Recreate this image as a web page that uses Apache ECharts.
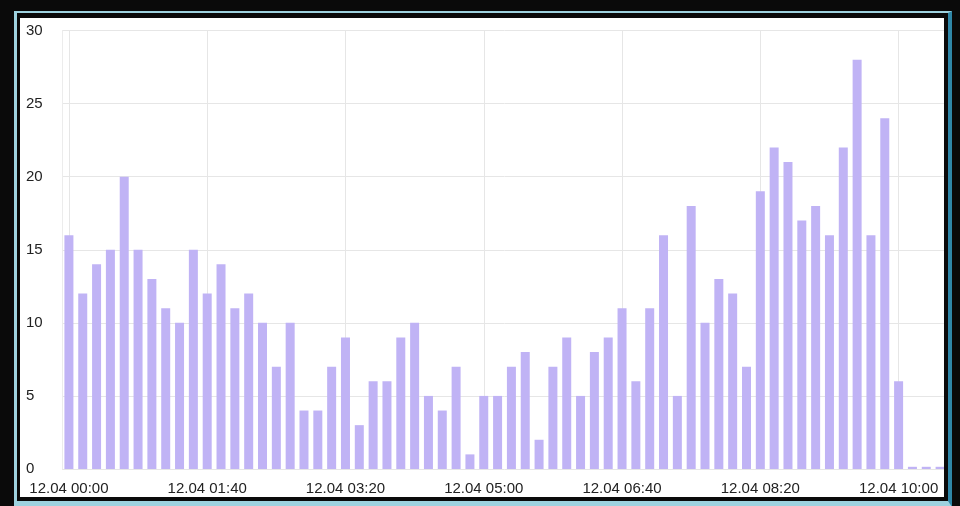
<!DOCTYPE html>
<html>
<head>
<meta charset="utf-8">
<script src="https://cdn.jsdelivr.net/npm/echarts@6/dist/echarts.min.js"></script>
<style>
  html, body { margin: 0; padding: 0; }
  body { width: 960px; height: 506px; overflow: hidden; background: #0a0a0a; position: relative; }
  #frame { position: absolute; left: 14px; top: 11px; width: 938px; height: 496px; box-sizing: border-box;
           border-left: 3px solid #9ed2df; border-top: 2px solid #9ed2df; border-bottom: 6px solid #9ed2df;
           border-right: 4px solid #2f87a8; }
  #panel { position: absolute; left: 20px; top: 18px; width: 924px; height: 479px; background: #fff; overflow: hidden; }
  #chart { position: absolute; left: 0; top: 0; width: 940px; height: 479px; }
</style>
</head>
<body>
<div id="frame"></div>
<div id="panel"><div id="chart"></div></div>
<script>
const categories = [
  '12.04 00:00','12.04 00:10','12.04 00:20','12.04 00:30','12.04 00:40','12.04 00:50',
  '12.04 01:00','12.04 01:10','12.04 01:20','12.04 01:30','12.04 01:40','12.04 01:50',
  '12.04 02:00','12.04 02:10','12.04 02:20','12.04 02:30','12.04 02:40','12.04 02:50',
  '12.04 03:00','12.04 03:10','12.04 03:20','12.04 03:30','12.04 03:40','12.04 03:50',
  '12.04 04:00','12.04 04:10','12.04 04:20','12.04 04:30','12.04 04:40','12.04 04:50',
  '12.04 05:00','12.04 05:10','12.04 05:20','12.04 05:30','12.04 05:40','12.04 05:50',
  '12.04 06:00','12.04 06:10','12.04 06:20','12.04 06:30','12.04 06:40','12.04 06:50',
  '12.04 07:00','12.04 07:10','12.04 07:20','12.04 07:30','12.04 07:40','12.04 07:50',
  '12.04 08:00','12.04 08:10','12.04 08:20','12.04 08:30','12.04 08:40','12.04 08:50',
  '12.04 09:00','12.04 09:10','12.04 09:20','12.04 09:30','12.04 09:40','12.04 09:50',
  '12.04 10:00','12.04 10:10','12.04 10:20','12.04 10:30'
];
const values = [
  16, 12, 14, 15, 20, 15, 13, 11, 10, 15,
  12, 14, 11, 12, 10, 7, 10, 4, 4, 7,
  9, 3, 6, 6, 9, 10, 5, 4, 7, 1,
  5, 5, 7, 8, 2, 7, 9, 5, 8, 9,
  11, 6, 11, 16, 5, 18, 10, 13, 12, 7,
  19, 22, 21, 17, 18, 16, 22, 28, 16, 24,
  6, 0.15, 0.15, 0.15
];
const yTicks = [0, 5, 10, 15, 20, 25, 30];

const chart = echarts.init(document.getElementById('chart'), null, { renderer: 'canvas' });
chart.setOption({
  animation: false,
  backgroundColor: '#ffffff',
  textStyle: { fontFamily: 'Liberation Sans, Arial, sans-serif' },
  grid: { left: 42, top: 12.5, width: 885, height: 438.5, containLabel: false },
  xAxis: {
    type: 'category',
    data: categories,
    boundaryGap: true,
    axisLine: { show: false },
    axisTick: { show: false, alignWithLabel: true, interval: 9 },
    axisLabel: { interval: 9, margin: 12, fontSize: 15, color: '#222', fontFamily: 'Liberation Sans, Arial, sans-serif' },
    splitLine: { show: true, interval: 9, alignWithLabel: true, lineStyle: { color: '#e6e6e6', width: 1 } }
  },
  yAxis: {
    type: 'value',
    min: yTicks[0],
    max: yTicks[yTicks.length - 1],
    interval: 5,
    axisLine: { show: true, lineStyle: { color: '#ececec' } },
    axisTick: { show: false },
    axisLabel: { align: 'left', margin: 36, fontSize: 15, color: '#222', padding: [3, 0, 0, 0], fontFamily: 'Liberation Sans, Arial, sans-serif' },
    splitLine: { show: true, lineStyle: { color: '#e6e6e6', width: 1 } }
  },
  series: [{
    type: 'bar',
    data: values,
    barWidth: 9,
    itemStyle: { color: '#c0b3f5' }
  }]
});
</script>
</body>
</html>
